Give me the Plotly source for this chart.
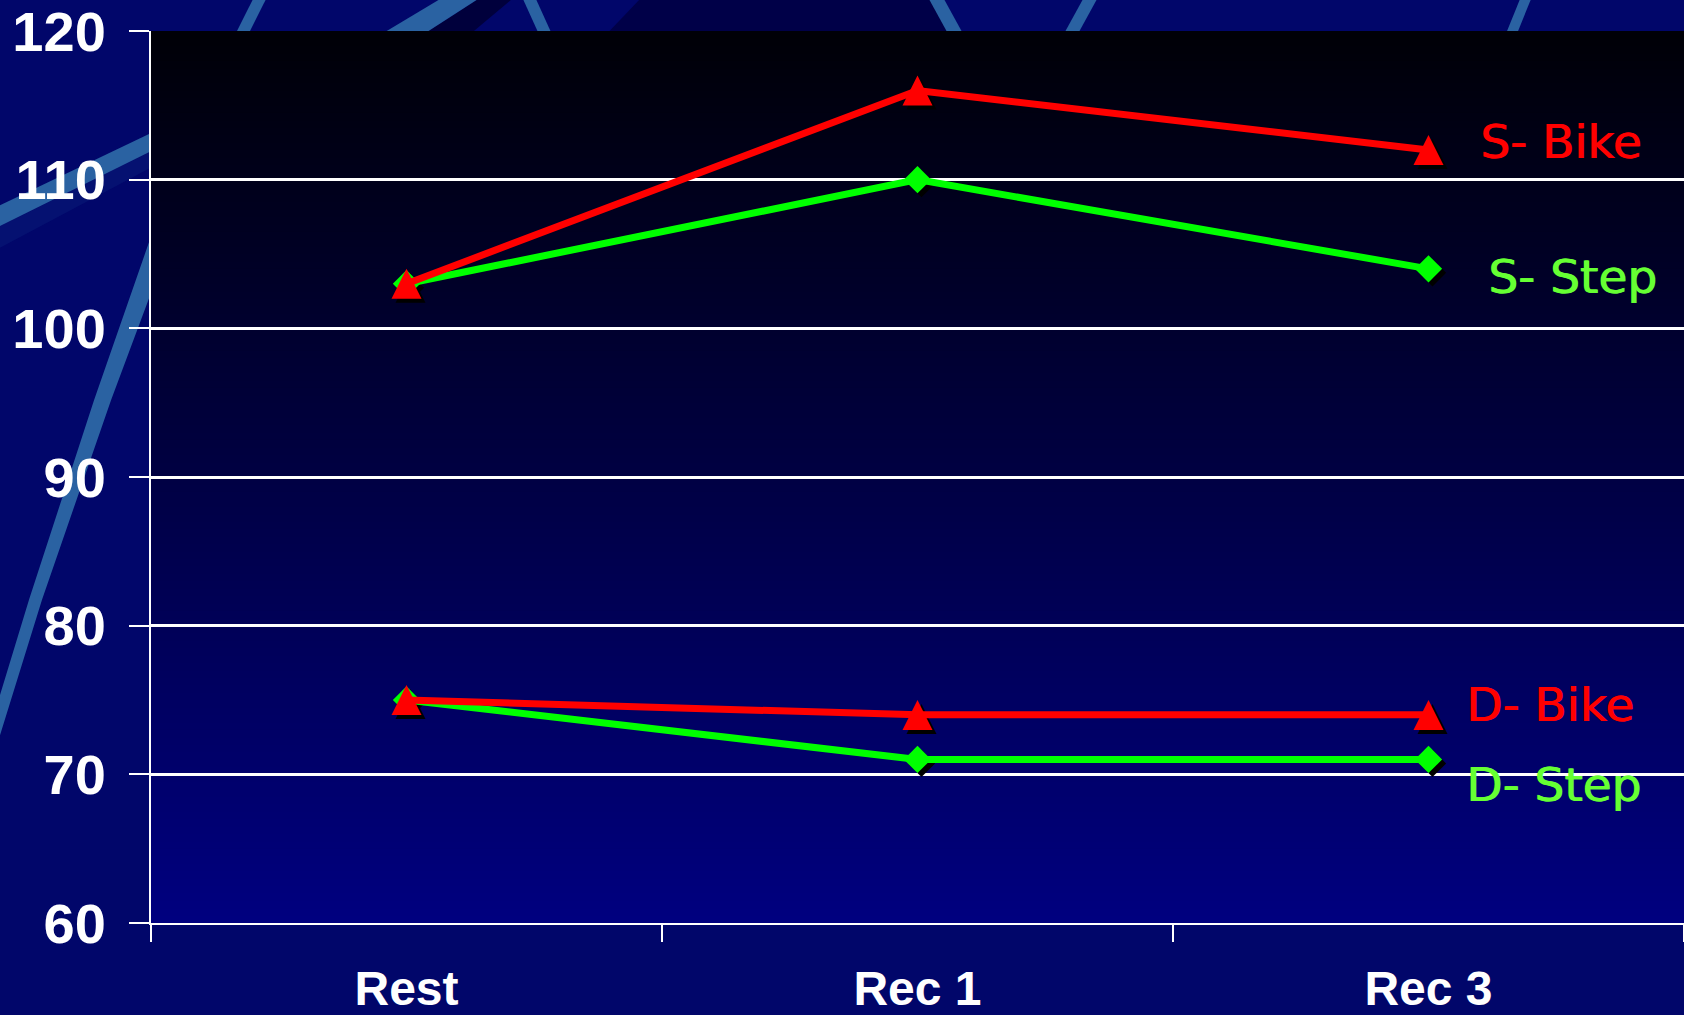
import plotly.graph_objects as go

# ---- data -------------------------------------------------------------
categories = ["Rest", "Rec 1", "Rec 3"]
s_bike = [103, 116, 112]
s_step = [103, 110, 104]
d_bike = [75, 74, 74]
d_step = [75, 71, 71]
y_ticks = [60, 70, 80, 90, 100, 110, 120]

# ---- geometry (pixels) ------------------------------------------------
W, H = 1684, 1015
PL, PR, PT, PB = 151, 1684, 30, 924
PW, PH = PR - PL, PB - PT
Y_RANGE = [60, 120]
X_RANGE = [-0.5, 2.5]

RED = "#ff0000"
GREEN = "#00ff00"
GREEN_TXT = "#66ff33"
STREAK = "#2a62a2"

TRI = 30      # triangle marker size (px), apex-anchored "arrow-up" symbol
DIA = 21      # diamond marker size
SH = 4        # drop-shadow offset (px)


def to_paper(x, y):
    return (x - PL) / PW, (PB - y) / PH


def poly_path(points):
    pts = [to_paper(x, y) for x, y in points]
    return "M " + " L ".join(f"{a:.5f},{b:.5f}" for a, b in pts) + " Z"


shapes = []

# decorative light streaks of the slide background
streaks = [
    ([(232, 40), (245, 40), (266, -2), (253, -2)], STREAK),
    ([(413, 40), (462, 40), (512, -2), (478, -2)], "#00003c"),
    ([(370, 40), (413, 40), (478, -2), (440, -2)], STREAK),
    ([(523, -2), (536, -2), (555, 40), (542, 40)], STREAK),
    ([(929, -2), (944, -2), (967, 40), (952, 40)], STREAK),
    ([(1083, -2), (1097, -2), (1074, 40), (1060, 40)], STREAK),
    ([(1520, -2), (1531, -2), (1514, 40), (1503, 40)], STREAK),
    ([(-5, 228), (-5, 250), (160, 162), (160, 146)], "rgba(42,98,162,0.12)"),
    ([(-5, 207), (-5, 228), (160, 146), (160, 128)], STREAK),
    ([(160, 210), (94, 400), (29, 600), (-5, 712), (-5, 752), (42, 600),
      (111, 400), (165, 255)], STREAK),
]
# darker patch in the top strip
shapes.append(dict(type="path", xref="paper", yref="paper", layer="below",
                   path=poly_path([(640, -2), (935, -2), (955, 40), (600, 40)]),
                   fillcolor="#000048", line=dict(width=0)))
for pts, col in streaks:
    shapes.append(dict(type="path", xref="paper", yref="paper", layer="below",
                       path=poly_path(pts), fillcolor=col, line=dict(width=0)))

# vertical gradient inside the plotting area: near black at top to navy
N = 120
top_c = (0, 0, 6)
bot_c = (0, 0, 128)
for i in range(N):
    t = (i + 0.5) / N
    c = tuple(round(a + (b - a) * t) for a, b in zip(top_c, bot_c))
    y0 = 1 - i / N
    y1 = 1 - (i + 1) / N - 0.002
    shapes.append(dict(type="rect", xref="paper", yref="paper", layer="below",
                       x0=0, x1=1, y0=max(y1, 0), y1=y0,
                       fillcolor=f"rgb({c[0]},{c[1]},{c[2]})", line=dict(width=0)))

# pixel -> data unit conversions used to offset overlay axes
ux = (X_RANGE[1] - X_RANGE[0]) / PW
uy = (Y_RANGE[1] - Y_RANGE[0]) / PH


def xr(px):
    return [X_RANGE[0] - px * ux, X_RANGE[1] - px * ux]


def yr(px_down):
    return [Y_RANGE[0] + px_down * uy, Y_RANGE[1] + px_down * uy]


fig = go.Figure()

# drop shadows (diamonds on x2/y2, triangles on x3/y3)
for vals in (s_step, d_step):
    fig.add_trace(go.Scatter(x=categories, y=vals, mode="markers",
                             marker=dict(symbol="diamond", size=DIA, color="black",
                                         line=dict(width=0)),
                             xaxis="x2", yaxis="y2", hoverinfo="skip",
                             showlegend=False))
for vals in (s_bike, d_bike):
    fig.add_trace(go.Scatter(x=categories, y=vals, mode="markers",
                             marker=dict(symbol="arrow-up", size=TRI, color="black",
                                         line=dict(width=0)),
                             xaxis="x3", yaxis="y3", hoverinfo="skip",
                             showlegend=False))

# series lines (green with diamonds, then red)
for vals in (s_step, d_step):
    fig.add_trace(go.Scatter(x=categories, y=vals, mode="lines+markers",
                             line=dict(color=GREEN, width=7),
                             marker=dict(symbol="diamond", size=DIA, color=GREEN,
                                         line=dict(width=0)),
                             xaxis="x4", yaxis="y4", showlegend=False))
for vals in (s_bike, d_bike):
    fig.add_trace(go.Scatter(x=categories, y=vals, mode="lines",
                             line=dict(color=RED, width=7),
                             xaxis="x4", yaxis="y4", showlegend=False))
# triangle markers, centred on the points
for vals in (s_bike, d_bike):
    fig.add_trace(go.Scatter(x=categories, y=vals, mode="markers",
                             marker=dict(symbol="arrow-up", size=TRI, color=RED,
                                         line=dict(width=0)),
                             xaxis="x5", yaxis="y5", showlegend=False))

label_font = "DejaVu Sans, Verdana, sans-serif"
labels = [
    ("S- Bike", 2.097, 112.55, RED),
    ("S- Step", 2.112, 103.5, GREEN_TXT),
    ("D- Bike", 2.069, 74.7, RED),
    ("D- Step", 2.069, 69.3, GREEN_TXT),
]
annotations = [dict(text=t, x=x, y=y, xref="x", yref="y", xanchor="left",
                    yanchor="middle", showarrow=False,
                    font=dict(family=label_font, size=47, color=c,
                              shadow=f"1px 0px 0px {c}"))
               for t, x, y, c in labels]

tick_font = dict(family="Liberation Sans, Arial, sans-serif", size=56,
                 color="white", weight="bold")

hidden = dict(visible=False, fixedrange=True)
fig.update_layout(
    width=W, height=H, autosize=False,
    margin=dict(l=PL, r=W - PR, t=PT, b=H - PB, pad=0),
    paper_bgcolor="#01066a",
    plot_bgcolor="rgba(0,0,0,0)",
    showlegend=False,
    shapes=shapes,
    annotations=annotations,
    xaxis=dict(type="category", categoryarray=categories, range=X_RANGE,
               tickson="boundaries", ticks="outside", ticklen=17, tickwidth=2,
               tickcolor="white", showline=True, linecolor="white", linewidth=2,
               showgrid=False, zeroline=False, ticklabelstandoff=22,
               tickfont=dict(tick_font, size=48)),
    yaxis=dict(range=Y_RANGE, tickvals=y_ticks, ticks="outside", ticklen=20,
               tickwidth=2, tickcolor="white", showline=True, linecolor="white",
               linewidth=2, showgrid=True, gridcolor="white", gridwidth=2.5,
               zeroline=False, ticklabelstandoff=12, ticklabeloverflow="allow",
               tickfont=tick_font),
    xaxis2=dict(hidden, type="category", categoryarray=categories,
                overlaying="x", range=xr(SH)),
    yaxis2=dict(hidden, overlaying="y", range=yr(SH)),
    xaxis3=dict(hidden, type="category", categoryarray=categories,
                overlaying="x", range=xr(SH)),
    yaxis3=dict(hidden, overlaying="y", range=yr(SH - TRI / 2)),
    xaxis4=dict(hidden, type="category", categoryarray=categories,
                overlaying="x", range=X_RANGE),
    yaxis4=dict(hidden, overlaying="y", range=Y_RANGE),
    xaxis5=dict(hidden, type="category", categoryarray=categories,
                overlaying="x", range=X_RANGE),
    yaxis5=dict(hidden, overlaying="y", range=yr(-TRI / 2)),
)

fig.write_html("out.html", config={"displayModeBar": False})
